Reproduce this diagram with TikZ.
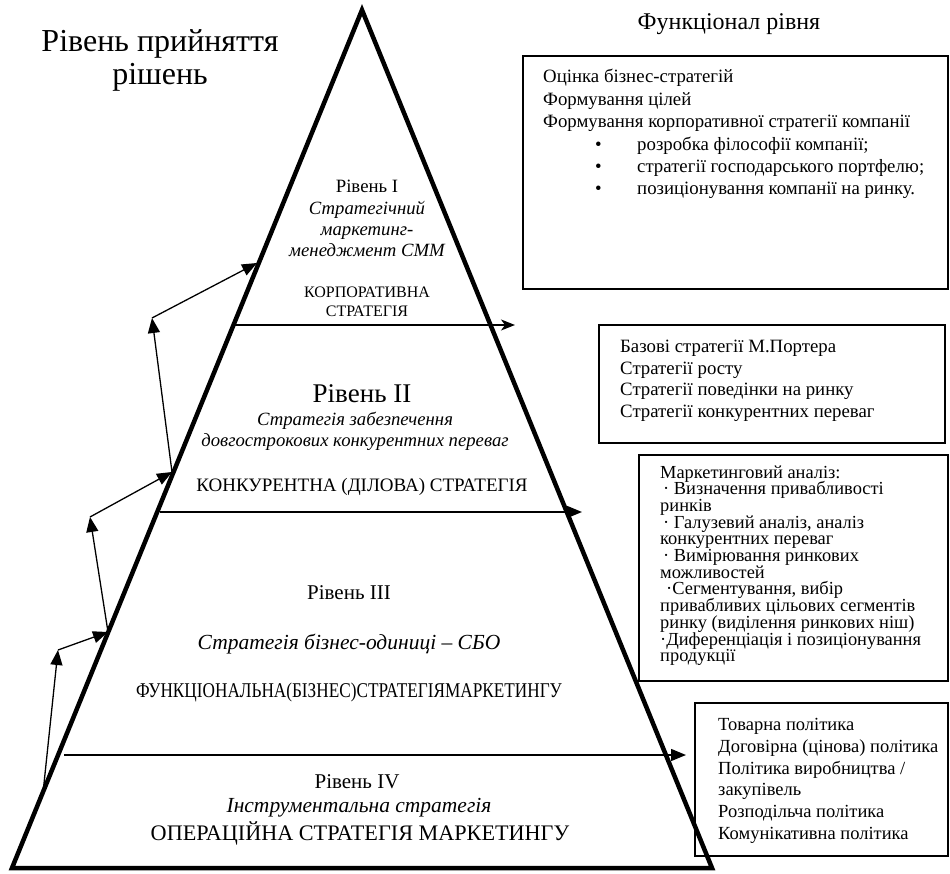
\documentclass[tikz,border=0pt]{standalone}
\usepackage{fontspec}
\setmainfont{Liberation Serif}
\usepackage{graphicx}
\usetikzlibrary{arrows.meta}
\begin{document}
\begin{tikzpicture}[x=1pt,y=-1pt,
  txt/.style={inner sep=0pt, anchor=base},
  txtl/.style={inner sep=0pt, anchor=base west},
  pyr/.style={line width=4.5pt, line join=miter},
  lvl/.style={line width=1.5pt},
  frame/.style={line width=1.6pt},
  tri/.style={-{Triangle[length=15pt,width=12pt]}},
  thin/.style={line width=1.3pt},
  fA/.style={font=\fontsize{18.8}{21}\selectfont},
  fAi/.style={font=\fontsize{18.7}{21}\selectfont\itshape},
  fB/.style={font=\fontsize{18.4}{16.8}\selectfont, text height=11pt, text depth=3pt},
  fC/.style={font=\fontsize{18.5}{21}\selectfont},
  fL/.style={font=\fontsize{21}{24}\selectfont},
  fLi/.style={font=\fontsize{21.5}{24}\selectfont\itshape},
]
\useasboundingbox (0,0) rectangle (950,874);

% pyramid
\coordinate (apex) at (362,10);
\coordinate (bl) at (12,868);
\coordinate (br) at (712,868);
\draw[pyr] (apex) -- (br) -- (bl) -- cycle;

% level lines
\coordinate (l1a) at (235,325); \coordinate (l1b) at (515,325);
\coordinate (l2a) at (160,512); \coordinate (l2b) at (582,512);
\coordinate (l3a) at (64,755);  \coordinate (l3b) at (686,755);
\draw[lvl,-{Stealth[length=14pt,width=11pt,inset=4pt]}] (l1a) -- (l1b);
\draw[lvl,tri] (l2a) -- (l2b);
\draw[lvl,tri] (l3a) -- (l3b);

% left arrows
\coordinate (p0) at (43,793);
\coordinate (p1) at (58,650);
\coordinate (p2) at (108,632);
\coordinate (p3) at (90,517);
\coordinate (p4) at (172,472);
\coordinate (p5) at (152,318);
\coordinate (p6) at (257,263);
\draw[thin,tri] (p0) -- (p1);
\draw[thin,tri] (p1) -- (p2);
\draw[thin,tri] (p2) -- (p3);
\draw[thin,tri] (p3) -- (p4);
\draw[thin,tri] (p4) -- (p5);
\draw[thin,tri] (p5) -- (p6);

% titles
\node[txt,font=\fontsize{32}{34}\selectfont] (t1) at (160,52) {Рівень прийняття};
\node[txt,font=\fontsize{32}{34}\selectfont] (t2) at (160,85) {рішень};
\node[txt,font=\fontsize{24}{26}\selectfont] (t3) at (729,30) {Функціонал рівня};

% level I
\node[txt,fA] (r1) at (367,193) {Рівень I};
\node[txt,fAi] (r1a) at (367,214.5) {Стратегічний};
\node[txt,fAi] (r1b) at (367,235.5) {маркетинг-};
\node[txt,fAi] (r1c) at (367,256.5) {менеджмент СММ};
\node[txt,font=\fontsize{16}{18}\selectfont] (r1d) at (367,298) {КОРПОРАТИВНА};
\node[txt,font=\fontsize{16}{18}\selectfont] (r1e) at (367,317) {СТРАТЕГІЯ};

% level II
\node[txt,font=\fontsize{27}{30}\selectfont] (r2) at (362,402) {Рівень II};
\node[txt,fAi] (r2a) at (355,425) {Стратегія забезпечення};
\node[txt,fAi] (r2b) at (355,446) {довгострокових конкурентних переваг};
\node[txt,font=\fontsize{19}{21}\selectfont] (r2c) at (362,491) {КОНКУРЕНТНА (ДІЛОВА) СТРАТЕГІЯ};

% level III
\node[txt,fL] (r3) at (349,599) {Рівень III};
\node[txt,fLi] (r3a) at (349,649) {Стратегія бізнес-одиниці – СБО};
\node[txt,fL] (r3b) at (349,697) {\scalebox{0.82}[1]{ФУНКЦІОНАЛЬНА(БІЗНЕС)СТРАТЕГІЯМАРКЕТИНГУ}};

% level IV
\node[txt,fL] (r4) at (357,788) {Рівень IV};
\node[txt,fLi] (r4a) at (359,812) {Інструментальна стратегія};
\node[txt,font=\fontsize{22.2}{24}\selectfont] (r4b) at (360,840) {ОПЕРАЦІЙНА СТРАТЕГІЯ МАРКЕТИНГУ};

% box 1
\draw[frame] (523,56) rectangle (948,289);
\node[txtl,fA] (b1a) at (543,83) {Оцінка бізнес-стратегій};
\node[txtl,fA] (b1b) at (543,105.4) {Формування цілей};
\node[txtl,fA] (b1c) at (543,127.8) {Формування корпоративної стратегії компанії};
\node[txtl,fA] (b1d) at (595,150.2) {•};
\node[txtl,fA] (b1e) at (637,150.2) {розробка філософії компанії;};
\node[txtl,fA] (b1f) at (595,172.6) {•};
\node[txtl,fA] (b1g) at (637,172.6) {стратегії господарського портфелю;};
\node[txtl,fA] (b1h) at (595,195) {•};
\node[txtl,fA] (b1i) at (637,195) {позиціонування компанії на ринку.};

% box 2
\draw[frame] (599,325) rectangle (945,443);
\node[txtl,fA] (b2a) at (620,352.3) {Базові стратегії М.Портера};
\node[txtl,fA] (b2b) at (620,374) {Стратегії росту};
\node[txtl,fA] (b2c) at (620,395.7) {Стратегії поведінки на ринку};
\node[txtl,fA] (b2d) at (620,417.3) {Стратегії конкурентних переваг};

% box 3
\draw[frame] (639,455) rectangle (948,681);
\node[txtl,fB] (b3a) at (660,478) {Маркетинговий аналіз:};
\node[txtl,fB] (b3b) at (663,494.7) {· Визначення привабливості};
\node[txtl,fB] (b3c) at (660,511.4) {ринків};
\node[txtl,fB] (b3d) at (663,528.1) {· Галузевий аналіз, аналіз};
\node[txtl,fB] (b3e) at (660,544.8) {конкурентних переваг};
\node[txtl,fB] (b3f) at (663,561.5) {· Вимірювання ринкових};
\node[txtl,fB] (b3g) at (660,578.2) {можливостей};
\node[txtl,fB] (b3h) at (666,594.9) {·Сегментування, вибір};
\node[txtl,fB] (b3i) at (660,611.6) {привабливих цільових сегментів};
\node[txtl,fB] (b3j) at (660,628.3) {ринку (виділення ринкових ніш)};
\node[txtl,fB] (b3k) at (660,645) {·Диференціація і позиціонування};
\node[txtl,fB] (b3l) at (660,661.7) {продукції};

% box 4
\draw[frame] (695,703) rectangle (948,856);
\node[txtl,fC] (b4a) at (718,730.7) {Товарна політика};
\node[txtl,fC] (b4b) at (718,752.4) {Договірна (цінова) політика};
\node[txtl,fC] (b4c) at (718,774.1) {Політика виробництва /};
\node[txtl,fC] (b4d) at (718,795.8) {закупівель};
\node[txtl,fC] (b4e) at (718,817.5) {Розподільча політика};
\node[txtl,fC] (b4f) at (718,839.2) {Комунікативна політика};
\end{tikzpicture}
\end{document}
